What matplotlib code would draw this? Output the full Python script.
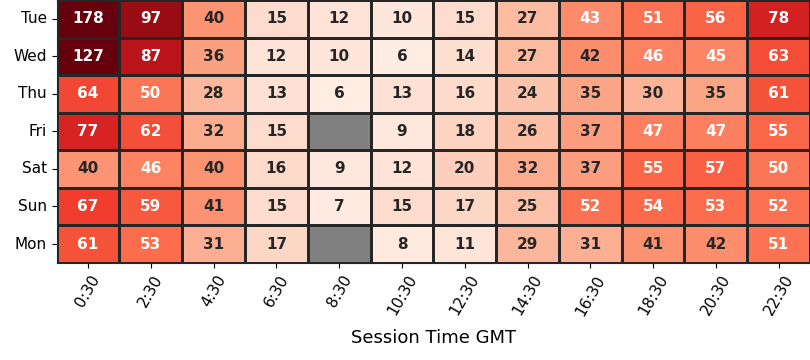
#! /usr/bin/env python
"""
plot.py
"""

import numpy as np
import pandas as pd
import matplotlib
matplotlib.use('Agg')
import matplotlib.pyplot as plt
import seaborn as sns

days = ['Tue', 'Wed', 'Thu', 'Fri', 'Sat', 'Sun', 'Mon']
times = ['0:30', '2:30', '4:30', '6:30', '8:30', '10:30',
         '12:30', '14:30', '16:30', '18:30', '20:30', '22:30']

tue = [178, 97, 40, 15, 12, 10, 15, 27, 43, 51, 56, 78]
wed = [127, 87, 36, 12, 10, 6, 14, 27, 42, 46, 45, 63]
thu = [64, 50, 28, 13, 6, 13, 16, 24, 35, 30, 35, 61]
fri = [77, 62, 32, 15, np.nan, 9, 18, 26, 37, 47, 47, 55]
sat = [40, 46, 40, 16, 9, 12, 20, 32, 37, 55, 57, 50]
sun = [67, 59, 41, 15, 7, 15, 17, 25, 52, 54, 53, 52]
mon = [61, 53, 31, 17, np.nan, 8, 11, 29, 31, 41, 42, 51]

df = pd.DataFrame([tue, wed, thu, fri, sat, sun, mon],
                  index=days, columns=times)

fig, ax = plt.subplots(figsize=(8.1, 3.6), dpi=100)
ax.set_facecolor('grey')
sns.heatmap(df, ax=ax, cmap='Reds', robust=True, vmin=0, annot=True,
            fmt='.0f', cbar=False, linewidths=1, linecolor='#262626',
            annot_kws={'fontsize': 11, 'fontweight': 'bold'})
ax.set_xlabel('Session Time GMT', fontsize=13, labelpad=8)
ax.set_ylabel('')
plt.setp(ax.get_xticklabels(), rotation=60, fontsize=11)
plt.setp(ax.get_yticklabels(), rotation=0, fontsize=11)
for side in ['top', 'right', 'bottom', 'left']:
    ax.spines[side].set_visible(True)
    ax.spines[side].set_color('#262626')

fig.subplots_adjust(left=0.07, right=1.0, top=1.0, bottom=0.27)
fig.savefig('out.png', dpi=100)
plt.close(fig)
